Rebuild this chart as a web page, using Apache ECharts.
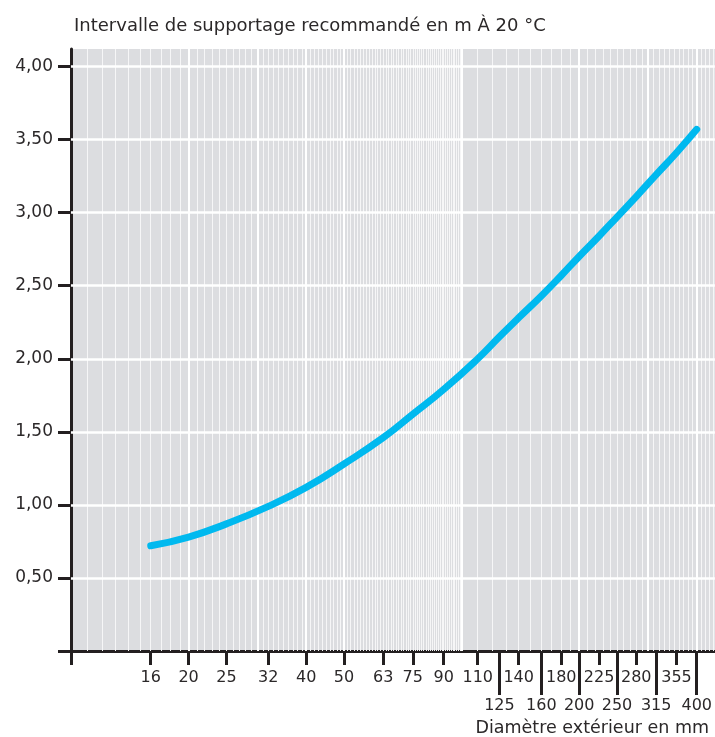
<!DOCTYPE html>
<html>
<head>
<meta charset="utf-8">
<script src="https://cdn.jsdelivr.net/npm/echarts@6/dist/echarts.min.js"></script>
<style>
html,body{margin:0;padding:0;background:#fff;}
#c{width:715px;height:737px;}
</style>
</head>
<body>
<div id="c"></div>
<script>
// ---- data ----
var diameters = [16, 20, 25, 32, 40, 50, 63, 75, 90, 110, 125, 140, 160, 180, 200, 225, 250, 280, 315, 355, 400];
var spacing   = [0.72, 0.78, 0.87, 0.99, 1.12, 1.28, 1.46, 1.62, 1.79, 2.00, 2.15, 2.28, 2.43, 2.57, 2.70, 2.84, 2.97, 3.11, 3.26, 3.41, 3.57];
var upperTickLabels = [16, 20, 25, 32, 40, 50, 63, 75, 90, 110, 140, 180, 225, 280, 355];
var lowerTickLabels = [125, 160, 200, 250, 315, 400];
var yTickValues = [0, 0.5, 1, 1.5, 2, 2.5, 3, 3.5, 4];
var majorGridX = [20, 30, 40, 50, 100, 200, 300, 400];
var minorGridX = [];
for (var i = 11; i < 100; i++) { if (majorGridX.indexOf(i) < 0) minorGridX.push(i); }
for (var j = 110; j <= 440; j += 10) { if (majorGridX.indexOf(j) < 0) minorGridX.push(j); }

var FONT = 'DejaVu Sans';
var TXT = '#2b2829';
var AX = '#231f20';

var chart = echarts.init(document.getElementById('c'), null, {renderer: 'canvas'});

var xCommon = {
  type: 'log', logBase: 10, min: 10, max: 445, position: 'bottom',
  splitLine: {show: false}, minorTick: {show: false}, minorSplitLine: {show: false}
};

var option = {
  animation: false,
  backgroundColor: '#ffffff',
  title: [
    {text: 'Intervalle de supportage recommandé en m À 20 °C', left: 69, top: 12,
     textStyle: {fontFamily: FONT, fontSize: 18, fontWeight: 'normal', color: TXT}},
    {text: 'Diamètre extérieur en mm', right: 1, top: 714,
     textStyle: {fontFamily: FONT, fontSize: 17.5, fontWeight: 'normal', color: TXT}}
  ],
  grid: {left: 71, right: 0, top: 49, bottom: 86, show: true, backgroundColor: '#dcdde0', borderWidth: 0},
  xAxis: [
    Object.assign({}, xCommon, {
      axisLine: {show: true, lineStyle: {color: AX, width: 3}},
      axisTick: {show: true, length: 14, lineStyle: {color: AX, width: 3},
                 customValues: [10].concat(upperTickLabels)},
      axisLabel: {show: true, margin: 19, fontFamily: FONT, fontSize: 16, color: TXT,
                  customValues: upperTickLabels}
    }),
    Object.assign({}, xCommon, {
      axisLine: {show: false},
      axisTick: {show: true, length: 44, lineStyle: {color: AX, width: 3},
                 customValues: lowerTickLabels},
      axisLabel: {show: true, margin: 47, fontFamily: FONT, fontSize: 16, color: TXT,
                  customValues: lowerTickLabels}
    })
  ],
  yAxis: {
    type: 'value', min: 0, max: 4.12,
    axisLine: {show: true, lineStyle: {color: AX, width: 3}},
    axisTick: {show: true, length: 13, lineStyle: {color: AX, width: 3}, customValues: yTickValues},
    axisLabel: {show: true, margin: 18, fontFamily: FONT, fontSize: 17, color: TXT,
                customValues: yTickValues.slice(1),
                formatter: function (v) { return v.toFixed(2).replace('.', ','); }},
    splitLine: {show: false}
  },
  series: [
    {
      type: 'line', xAxisIndex: 0, data: [], z: 1, silent: true,
      markLine: {
        silent: true, symbol: 'none', z: 1, animation: false,
        label: {show: false},
        emphasis: {disabled: true},
        data: minorGridX.map(function (v) { return {xAxis: v, lineStyle: {color: '#f6f6f7', width: 1, type: 'solid'}}; })
          .concat(majorGridX.map(function (v) { return {xAxis: v, lineStyle: {color: '#ffffff', width: 2, type: 'solid'}}; }))
          .concat(yTickValues.slice(1).map(function (v) { return {yAxis: v, lineStyle: {color: '#ffffff', width: 2.5, type: 'solid'}}; }))
      }
    },
    {
      type: 'line', xAxisIndex: 0, z: 5,
      data: diameters.map(function (d, k) { return [d, spacing[k]]; }),
      smooth: 0.5, showSymbol: false, symbol: 'none',
      lineStyle: {color: '#00b9ef', width: 7, cap: 'round', join: 'round'}
    }
  ]
};
chart.setOption(option);
</script>
</body>
</html>
